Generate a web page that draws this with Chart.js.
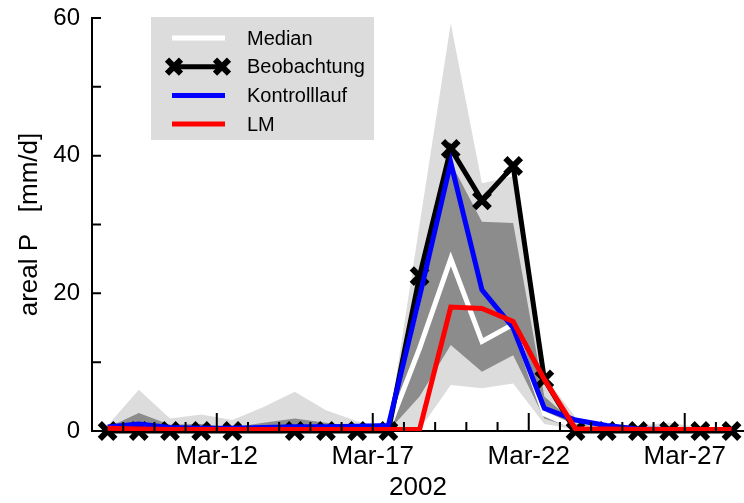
<!DOCTYPE html>
<html>
<head>
<meta charset="utf-8">
<script src="https://cdn.jsdelivr.net/npm/chart.js@4.4.0/dist/chart.umd.min.js"></script>
<style>
  html, body { margin: 0; padding: 0; background: #fff; }
  #wrap { width: 744px; height: 503px; }
</style>
</head>
<body>
<div id="wrap"><canvas id="chart" width="744" height="503"></canvas></div>
<script>
// days from Mar-08 to Mar-28 2002, values belong to noon of each day
var dayNames = ['Mar-08','Mar-09','Mar-10','Mar-11','Mar-12','Mar-13','Mar-14','Mar-15','Mar-16','Mar-17',
  'Mar-18','Mar-19','Mar-20','Mar-21','Mar-22','Mar-23','Mar-24','Mar-25','Mar-26','Mar-27','Mar-28'];
var tickLabels = ['Mar-12', 'Mar-17', 'Mar-22', 'Mar-27'];

var beobachtung = [0, 0, 0, 0, 0, null, 0, 0, 0, 0, 22.5, 41, 33.5, 38.5, 7.5, 0, 0, 0, 0, 0, 0];
var kontrolllauf = [0.6, 1.0, 0.5, 0.4, 0.4, 0.5, 0.6, 0.6, 0.7, 0.8, 19.5, 39, 20.5, 15, 3.3, 1.6, 0.8, 0.3, 0.2, 0.2, 0.2];
var lm = [0.4, 0.3, 0.2, 0.2, 0.2, 0.2, 0.2, 0.2, 0.2, 0.2, 0.2, 18, 17.8, 15.9, 7.5, 0.3, 0.3, 0.2, 0.2, 0.2, 0.2];
var median = [0.3, 0.5, 0.2, 0.2, 0.2, 0.2, 0.3, 0.2, 0.2, 0.3, 12, 25, 13, 15.5, 2.5, 0.5, 0.2, 0.2, 0.2, 0.2, 0.2];
// ensemble range (light) and inner range (dark)
var rangeHigh = [0.8, 6.0, 1.8, 2.4, 1.6, 3.5, 5.7, 3.0, 1.4, 0.5, 30, 59.2, 36, 37, 8, 2, 1, 0.8, 1.2, 0.5, 0.3];
var rangeLow = [0, 0, 0, 0, 0, 0, 0, 0, 0, 0, 0.2, 6.7, 6.2, 6.9, 1.0, 0.2, 0, 0, 0, 0, 0];
var innerHigh = [0.5, 2.6, 0.9, 1.0, 0.5, 1.2, 1.8, 1.2, 0.6, 0.4, 18, 39, 30.4, 30.2, 5, 1, 0.5, 0.3, 0.3, 0.2, 0.2];
var innerLow = [0, 0.2, 0, 0, 0, 0, 0, 0, 0, 0, 5, 12.5, 8.6, 11, 1.8, 0.3, 0, 0, 0, 0, 0];

function pts(arr) {
  return arr.map(function(v, i) { return { x: i + 0.5, y: v }; });
}

Chart.defaults.font.family = '"Liberation Sans", Arial, Helvetica, sans-serif';
Chart.defaults.color = '#000';

var innerTicks = {
  id: 'innerTicks',
  afterDatasetsDraw: function(chart) {
    var ctx = chart.ctx, a = chart.chartArea, x = chart.scales.x, y = chart.scales.y;
    ctx.save();
    ctx.strokeStyle = '#000';
    ctx.lineWidth = 2;
    ctx.beginPath();
    for (var v = 10; v <= 60; v += 10) {
      var py = y.getPixelForValue(v);
      ctx.moveTo(a.left, py);
      ctx.lineTo(a.left + 9, py);
    }
    for (var d = 1; d < dayNames.length; d++) {
      var px = x.getPixelForValue(d);
      var len = tickLabels.indexOf(dayNames[d]) >= 0 ? 18 : 9;
      ctx.moveTo(px, a.bottom);
      ctx.lineTo(px, a.bottom - len);
    }
    ctx.stroke();
    ctx.restore();
  }
};

function drawX(ctx, cx, cy, r) {
  ctx.beginPath();
  ctx.moveTo(cx - r, cy - r); ctx.lineTo(cx + r, cy + r);
  ctx.moveTo(cx - r, cy + r); ctx.lineTo(cx + r, cy - r);
  ctx.stroke();
}

var boxLegend = {
  id: 'boxLegend',
  afterDraw: function(chart) {
    var ctx = chart.ctx;
    var items = [
      { text: 'Median', color: '#ffffff', marker: false },
      { text: 'Beobachtung', color: '#000000', marker: true },
      { text: 'Kontrolllauf', color: '#0000ff', marker: false },
      { text: 'LM', color: '#ff0000', marker: false }
    ];
    ctx.save();
    ctx.fillStyle = '#dcdcdc';
    ctx.fillRect(151, 17, 223, 123);
    ctx.font = '20px "Liberation Sans", Arial, sans-serif';
    ctx.textBaseline = 'middle';
    items.forEach(function(it, i) {
      var yy = 38 + i * 28.7;
      ctx.strokeStyle = it.color;
      ctx.lineWidth = 5;
      ctx.beginPath();
      ctx.moveTo(172, yy); ctx.lineTo(225, yy);
      ctx.stroke();
      if (it.marker) {
        ctx.lineWidth = 6;
        drawX(ctx, 174, yy, 7);
        drawX(ctx, 222, yy, 7);
      }
      ctx.fillStyle = '#000';
      ctx.fillText(it.text, 247, yy + 1);
    });
    ctx.restore();
  }
};

var band = { borderWidth: 0, pointRadius: 0, pointHoverRadius: 0, tension: 0 };

var chart = new Chart(document.getElementById('chart').getContext('2d'), {
  type: 'line',
  data: {
    datasets: [
      Object.assign({ data: pts(rangeHigh), fill: 1, backgroundColor: '#dcdcdc', order: 8 }, band),
      Object.assign({ data: pts(rangeLow), fill: false, order: 7 }, band),
      Object.assign({ data: pts(innerHigh), fill: 3, backgroundColor: '#8c8c8c', order: 6 }, band),
      Object.assign({ data: pts(innerLow), fill: false, order: 5 }, band),
      { label: 'Median', data: pts(median), borderColor: '#ffffff', borderWidth: 5, pointRadius: 0, fill: false, order: 4 },
      { label: 'Beobachtung', data: pts(beobachtung), borderColor: '#000', borderWidth: 5, spanGaps: true,
        pointStyle: 'crossRot', pointRadius: 11, pointBorderWidth: 6, pointBorderColor: '#000', fill: false, clip: false, order: 3 },
      { label: 'Kontrolllauf', data: pts(kontrolllauf), borderColor: '#0000ff', borderWidth: 5, pointRadius: 0, fill: false, order: 2 },
      { label: 'LM', data: pts(lm), borderColor: '#ff0000', borderWidth: 5, pointRadius: 0, fill: false, order: 1 }
    ]
  },
  options: {
    responsive: false,
    animation: false,
    layout: { autoPadding: false, padding: { top: 18, left: 0, right: 0, bottom: 0 } },
    plugins: { legend: { display: false }, tooltip: { enabled: false } },
    elements: { line: { borderJoinStyle: 'miter', borderCapStyle: 'butt' } },
    scales: {
      x: {
        type: 'linear',
        min: 0,
        max: 20.9,
        grid: { display: false, drawTicks: false },
        border: { display: true, color: '#000', width: 2 },
        ticks: {
          stepSize: 1,
          autoSkip: false,
          maxRotation: 0,
          padding: 10,
          font: { size: 26 },
          callback: function(v) {
            var n = dayNames[v];
            return tickLabels.indexOf(n) >= 0 ? n : '';
          }
        },
        title: { display: true, text: '2002', font: { size: 26 }, padding: { top: 0, bottom: 0 } },
        afterFit: function(s) { s.height = 72; s.paddingLeft = 0; s.paddingRight = 0; }
      },
      y: {
        min: 0,
        max: 60,
        grid: { display: false, drawTicks: false },
        border: { display: true, color: '#000', width: 2 },
        ticks: { stepSize: 20, padding: 12, font: { size: 24 } },
        title: { display: true, text: 'areal P   [mm/d]', font: { size: 26 }, padding: { top: 14, bottom: 0 } },
        afterFit: function(s) { s.width = 92; s.paddingTop = 0; s.paddingBottom = 0; }
      }
    }
  },
  plugins: [innerTicks, boxLegend]
});
</script>
</body>
</html>
